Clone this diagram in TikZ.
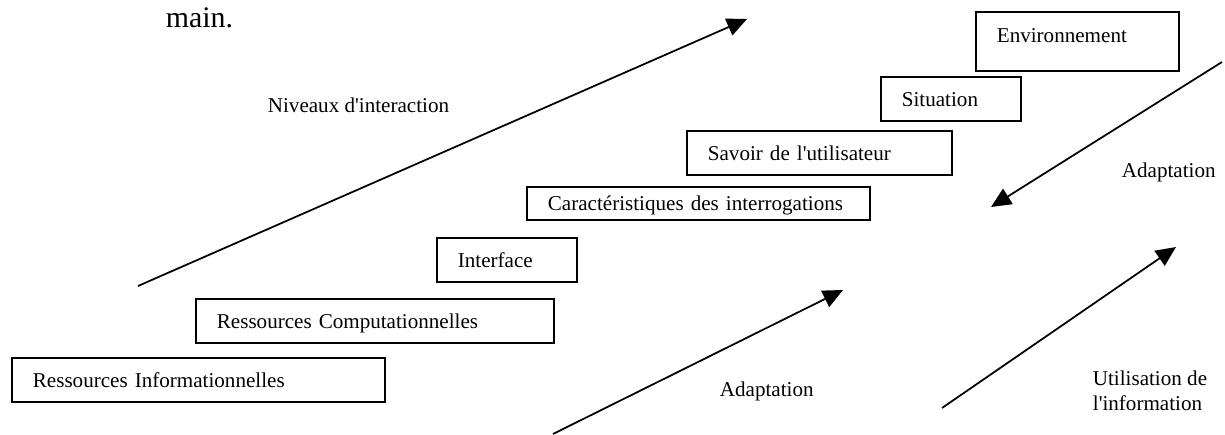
\documentclass[tikz,border=0pt]{standalone}
\usepackage{fontspec}
\setmainfont{Liberation Serif}
\usetikzlibrary{arrows.meta}
\tikzset{levelbox/.style={draw, anchor=north west, align=left, inner xsep=0.42cm, inner ysep=0pt, text height=0.6cm, text depth=0.28cm},
  freelabel/.style={anchor=base west, inner sep=0pt},
  >={Triangle[length=0.4cm, width=0.36cm]}}

\begin{document}
\begin{tikzpicture}[font=\fontsize{12}{14.2}\selectfont, line width=1pt]
\useasboundingbox (0,0) rectangle (24.5,-8.68);
\node[freelabel, font=\rmfamily\fontsize{17}{20}\selectfont] (main) at (3.30,-0.54) {main.};
\node[freelabel] (niveaux) at (5.34,-2.24) {Niveaux d\textquotesingle interaction};
\node[levelbox, text width=6.62cm] (resinfo) at (0.22,-7.14) {Ressources Informationnelles};
\node[levelbox, text width=6.32cm] (rescomp) at (3.90,-5.96) {Ressources Computationnelles};
\node[levelbox, text width=1.96cm] (interface) at (8.72,-4.74) {Interface};
\node[levelbox, text width=6.02cm, text height=0.48cm, text depth=0.18cm] (caract) at (10.52,-3.72) {Caractéristiques des interrogations};
\node[levelbox, text width=4.46cm] (savoir) at (13.72,-2.60) {Savoir de l\textquotesingle utilisateur};
\node[levelbox, text width=1.96cm] (situation) at (17.60,-1.52) {Situation};
\node[levelbox, text width=3.22cm, text height=0.62cm, text depth=0.56cm] (environ) at (19.50,-0.22) {Environnement};
\node[freelabel] (adapthaut) at (22.42,-3.54) {Adaptation};
\node[freelabel] (adaptbas) at (14.38,-7.92) {Adaptation};
\node[anchor=north west, align=left, inner sep=0pt] (utilisation) at (21.84,-7.40) {Utilisation de\\l\textquotesingle information};
\coordinate (nivA) at (2.76,-5.72);
\coordinate (nivB) at (14.94,-0.38);
\coordinate (hautA) at (24.44,-1.24);
\coordinate (hautB) at (19.82,-4.14);
\coordinate (basA) at (11.06,-8.68);
\coordinate (basB) at (16.86,-5.80);
\coordinate (utilA) at (18.84,-8.16);
\coordinate (utilB) at (23.52,-4.94);
\draw[->] (nivA) -- (nivB);
\draw[->] (hautA) -- (hautB);
\draw[->] (basA) -- (basB);
\draw[->] (utilA) -- (utilB);
\end{tikzpicture}
\end{document}
